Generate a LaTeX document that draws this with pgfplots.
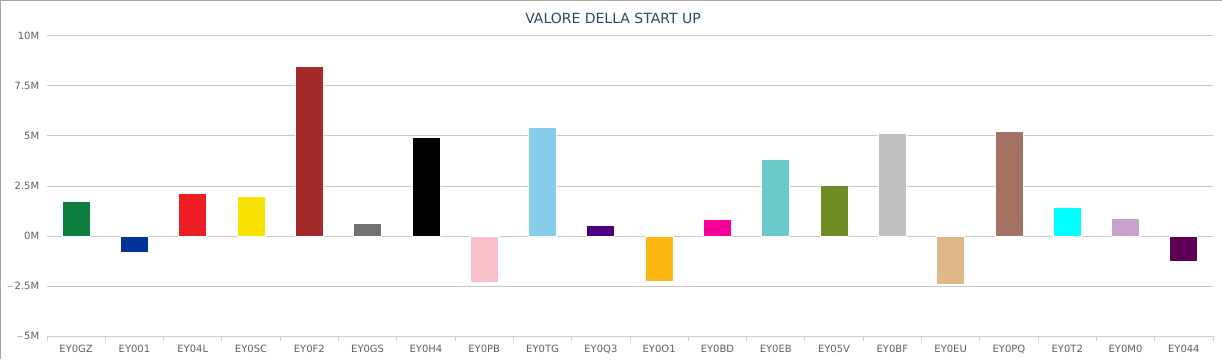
\documentclass[border=0pt]{standalone}
\usepackage{fontspec}
\setmainfont{DejaVu Sans}
\usepackage{pgfplots}
\pgfplotsset{compat=1.18}
\definecolor{cGZ}{HTML}{0D8040}
\definecolor{cO01}{HTML}{00349A}
\definecolor{c4L}{HTML}{EE1C25}
\definecolor{cSC}{HTML}{F7E200}
\definecolor{cF2}{HTML}{A52A2A}
\definecolor{cGS}{HTML}{737070}
\definecolor{cH4}{HTML}{000000}
\definecolor{cPB}{HTML}{F9C0CB}
\definecolor{cTG}{HTML}{87CEEB}
\definecolor{cQ3}{HTML}{4B0082}
\definecolor{cO1}{HTML}{FDB913}
\definecolor{cBD}{HTML}{F7009A}
\definecolor{cEB}{HTML}{6AC9C9}
\definecolor{c5V}{HTML}{6E8B24}
\definecolor{cBF}{HTML}{C0C0C0}
\definecolor{cEU}{HTML}{DEB887}
\definecolor{cPQ}{HTML}{A47264}
\definecolor{cT2}{HTML}{00FFFF}
\definecolor{cM0}{HTML}{C8A2C8}
\definecolor{c44}{HTML}{5E0055}
\definecolor{gridc}{HTML}{C8C8C8}
\definecolor{axisc}{HTML}{C0D0E0}
\definecolor{labc}{HTML}{606060}
\definecolor{titc}{HTML}{274B6D}
\begin{document}
\begin{tikzpicture}[x=1pt,y=1pt]
\useasboundingbox (0,0) rectangle (1222,359);
\fill[white] (0,0) rectangle (1222,359);
\draw[color=black!35, line width=1.3pt] (0.65,0) -- (0.65,358.35) -- (1222,358.35);
\begin{axis}[
  at={(47pt,23pt)}, anchor=south west,
  scale only axis, width=1166pt, height=300pt,
  ybar, bar width=28pt, bar shift=0pt,
  xmin=-0.5, xmax=19.5, ymin=-5, ymax=10,
  xtick={0,...,19},
  xticklabels={EY0GZ,EY001,EY04L,EY0SC,EY0F2,EY0GS,EY0H4,EY0PB,EY0TG,EY0Q3,EY0O1,EY0BD,EY0EB,EY05V,EY0BF,EY0EU,EY0PQ,EY0T2,EY0M0,EY044},
  minor xtick={-0.5,0.5,...,19.5},
  ytick={-5,-2.5,0,2.5,5,7.5,10},
  yticklabels={$-$5M,$-$2.5M,0M,2.5M,5M,7.5M,10M},
  axis x line*=bottom, axis y line*=left,
  x axis line style={color=axisc, line width=1pt, -},
  y axis line style={draw=none},
  major x tick style={draw=none},
  minor x tick style={color=axisc, line width=1pt},
  minor tick length=5pt,
  ytick style={draw=none},
  tick align=outside,
  ymajorgrids, grid style={color=gridc, line width=1pt},
  xticklabel style={font=\fontsize{10}{12}\selectfont, color=labc, yshift=-1pt},
  yticklabel style={font=\fontsize{10}{12}\selectfont, color=labc, xshift=0pt},
  every axis plot/.append style={draw=white, line width=0.8pt},
  clip=false,
]
\addplot[fill=cGZ] coordinates {(0,1.73)};
\addplot[fill=cO01] coordinates {(1,-0.83)};
\addplot[fill=c4L] coordinates {(2,2.15)};
\addplot[fill=cSC] coordinates {(3,1.99)};
\addplot[fill=cF2] coordinates {(4,8.46)};
\addplot[fill=cGS] coordinates {(5,0.63)};
\addplot[fill=cH4] coordinates {(6,4.95)};
\addplot[fill=cPB] coordinates {(7,-2.33)};
\addplot[fill=cTG] coordinates {(8,5.43)};
\addplot[fill=cQ3] coordinates {(9,0.53)};
\addplot[fill=cO1] coordinates {(10,-2.28)};
\addplot[fill=cBD] coordinates {(11,0.84)};
\addplot[fill=cEB] coordinates {(12,3.85)};
\addplot[fill=c5V] coordinates {(13,2.52)};
\addplot[fill=cBF] coordinates {(14,5.14)};
\addplot[fill=cEU] coordinates {(15,-2.42)};
\addplot[fill=cPQ] coordinates {(16,5.22)};
\addplot[fill=cT2] coordinates {(17,1.43)};
\addplot[fill=cM0] coordinates {(18,0.88)};
\addplot[fill=c44] coordinates {(19,-1.28)};
\end{axis}
\node[font=\fontsize{14}{17}\selectfont, color=titc] at (613,341) {VALORE DELLA START UP};
\end{tikzpicture}
\end{document}
